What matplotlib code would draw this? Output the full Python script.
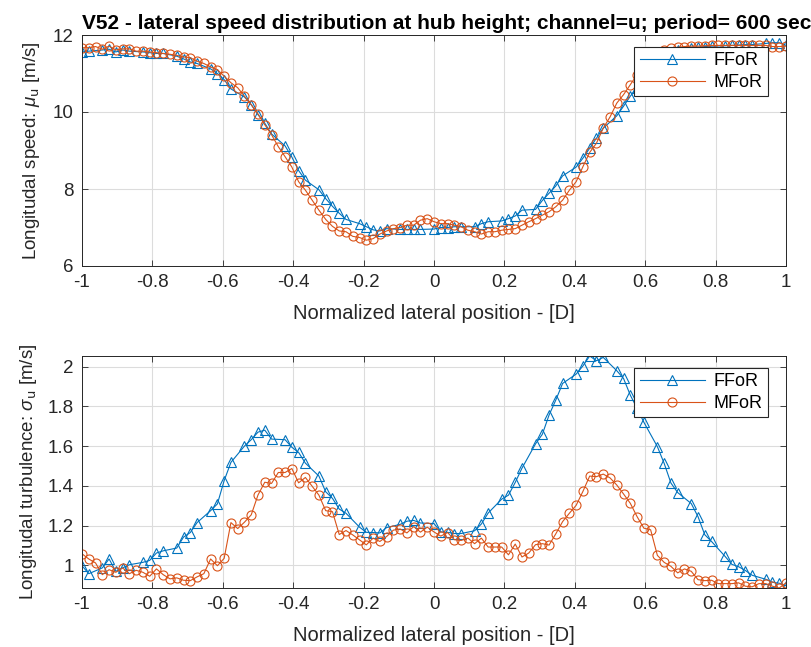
import numpy as np
import matplotlib
matplotlib.use("Agg")
import matplotlib.pyplot as plt

plt.rcParams['font.family'] = ['Liberation Sans', 'DejaVu Sans']
plt.rcParams['mathtext.fontset'] = 'custom'
plt.rcParams['mathtext.it'] = 'Liberation Sans:italic'

# lateral positions, normalized by rotor radius (105 stations)
pos = np.linspace(-1, 1, 105)

# mean longitudinal speed [m/s]
mu_ffor = [11.56, 11.58, None, 11.61, 11.63, 11.56, 11.61, 11.58, None, 11.56,
           11.54, 11.52, 11.52, None, 11.45, 11.38, 11.30, 11.26, None, 11.12,
           11.00, 10.84, 10.60, None, 10.39, 10.19, 9.93, 9.71, 9.43, None,
           9.12, 8.83, 8.48, 8.23, None, 7.98, 7.75, 7.55, 7.37, 7.21,
           None, 7.10, 7.02, 6.94, 6.91, 6.97, None, 6.95, 6.95, 6.95,
           6.95, None, 6.96, 7.00, 7.00, 7.02, 7.02, None, 7.02, 7.10,
           7.15, None, 7.17, 7.23, 7.30, 7.45, None, 7.47, 7.70, 7.89,
           8.08, 8.34, None, 8.57, 8.80, 9.06, 9.32, 9.58, None, 9.90,
           10.15, 10.41, 10.63, 10.85, None, 11.20, 11.40, 11.52, 11.60, None,
           11.66, 11.68, 11.70, 11.71, None, 11.72, 11.73, 11.74, 11.75, 11.75,
           None, 11.78, 11.80, 11.80, 11.73]
mu_mfor = [11.67, 11.67, 11.70, 11.63, 11.71, 11.61, 11.64, 11.64, 11.58, 11.58,
           11.56, 11.54, 11.52, 11.50, 11.47, 11.43, 11.41, 11.32, 11.26, 11.17,
           11.10, 10.93, 10.76, 10.63, 10.41, 10.19, 9.95, 9.67, 9.41, 9.10,
           8.84, 8.57, 8.19, 7.97, 7.71, 7.45, 7.21, 7.03, 6.91, 6.89,
           6.77, 6.74, 6.67, 6.71, 6.83, 6.91, 6.97, 7.00, 7.06, 7.06,
           7.19, 7.23, 7.15, 7.10, 7.10, 7.06, 7.02, 6.93, 6.89, 6.83,
           6.89, 6.89, 6.93, 6.95, 6.97, 7.06, 7.15, 7.23, 7.32, 7.41,
           7.54, 7.71, 7.97, 8.19, 8.58, 8.95, 9.19, 9.58, 9.87, 10.23,
           10.45, 10.71, 10.97, 11.20, 11.40, 11.52, 11.60, 11.65, 11.68, 11.70,
           11.71, 11.71, 11.72, 11.73, 11.73, 11.73, 11.73, 11.73, 11.73, 11.73,
           11.73, 11.73, 11.70, 11.70, 11.71]

# longitudinal turbulence (std) [m/s]
sig_ffor = [0.998, 0.958, None, 0.987, 1.032, 0.970, 0.987, 1.003, None, 1.015,
            1.025, 1.062, 1.073, None, 1.087, 1.142, 1.165, 1.215, None, 1.275,
            1.309, 1.426, 1.518, None, 1.600, 1.632, 1.670, 1.680, 1.635, None,
            1.632, 1.594, 1.568, 1.514, None, 1.449, 1.370, 1.337, 1.283, 1.262,
            None, 1.192, 1.166, 1.165, 1.163, 1.190, None, 1.206, 1.222, 1.226,
            1.213, None, 1.210, 1.168, 1.166, 1.160, 1.160, None, 1.174, 1.208,
            1.263, None, 1.333, 1.353, 1.417, 1.489, None, 1.611, 1.659, 1.756,
            1.832, 1.915, None, 1.962, 2.003, 2.053, 2.029, 2.046, None, 1.979,
            1.940, 1.856, 1.790, 1.720, None, 1.597, 1.513, 1.414, 1.366, None,
            1.311, 1.245, 1.154, 1.120, None, 1.045, 1.005, 0.993, 0.974, 0.950,
            None, 0.930, 0.915, 0.910, 0.897]
sig_mfor = [1.058, 1.032, 1.012, 0.953, 0.978, 0.965, 0.987, 0.958, 0.975, 0.965,
            0.945, 0.982, 0.953, 0.932, 0.937, 0.925, 0.923, 0.942, 0.958, 1.032,
            0.998, 1.035, 1.215, 1.185, 1.217, 1.254, 1.354, 1.418, 1.412, 1.467,
            1.467, 1.487, 1.415, 1.442, 1.398, 1.353, 1.275, 1.270, 1.155, 1.175,
            1.153, 1.128, 1.103, 1.137, 1.120, 1.145, 1.177, 1.183, 1.163, 1.195,
            1.167, 1.192, 1.168, 1.147, 1.165, 1.129, 1.125, 1.137, 1.109, 1.137,
            1.092, 1.092, 1.092, 1.053, 1.107, 1.042, 1.062, 1.104, 1.109, 1.102,
            1.159, 1.220, 1.262, 1.302, 1.372, 1.449, 1.446, 1.459, 1.440, 1.404,
            1.359, 1.312, 1.245, 1.187, 1.179, 1.050, 1.015, 0.995, 0.962, 0.982,
            0.970, 0.928, 0.923, 0.925, 0.908, 0.908, 0.908, 0.912, 0.895, 0.892,
            0.908, 0.908, 0.895, 0.886, 0.912]

xticks = [-1, -0.8, -0.6, -0.4, -0.2, 0, 0.2, 0.4, 0.6, 0.8, 1]
xticklabels = ['-1', '-0.8', '-0.6', '-0.4', '-0.2', '0', '0.2', '0.4', '0.6', '0.8', '1']

c_f = '#0072BD'
c_m = '#D95319'
txt = '#262626'


def series(vals):
    v = np.array([np.nan if a is None else a for a in vals], dtype=float)
    ok = np.isfinite(v)
    return pos[ok], v[ok]


def style(ax):
    ax.set_xlim(-1, 1)
    ax.set_xticks(xticks)
    ax.set_xticklabels(xticklabels)
    ax.grid(True, color='#dcdcdc', linewidth=0.8)
    ax.set_axisbelow(True)
    ax.tick_params(direction='in', top=True, right=True, length=4, pad=6,
                   width=0.6, color=txt, labelsize=13.5, labelcolor=txt)
    for s in ax.spines.values():
        s.set_color(txt)
        s.set_linewidth(0.7)
    ax.set_xlabel('Normalized lateral position - [D]', fontsize=14.5, color=txt, labelpad=9)


fig = plt.figure(figsize=(8.12, 6.47), dpi=100)
ax1 = fig.add_axes([82/812, 1-266/647, 704/812, 231/647])
ax2 = fig.add_axes([82/812, 1-588/647, 704/812, 232/647])

for ax, f, m in [(ax1, mu_ffor, mu_mfor), (ax2, sig_ffor, sig_mfor)]:
    xf, yf = series(f)
    xm, ym = series(m)
    ax.plot(xf, yf, '-^', color=c_f, lw=0.8, ms=6.5, mfc='none', mew=0.8, label='FFoR')
    ax.plot(xm, ym, '-o', color=c_m, lw=0.8, ms=6.5, mfc='none', mew=0.8, label='MFoR')
    style(ax)
    leg = ax.legend(loc='upper right', bbox_to_anchor=(1 - 18/704, 1 - 12/231),
                    fontsize=13, frameon=True, fancybox=False, borderaxespad=0,
                    handlelength=3.6, borderpad=0.3, labelspacing=0.25, handletextpad=0.5)
    leg.get_frame().set_edgecolor(txt)
    leg.get_frame().set_linewidth(0.8)
    leg.get_frame().set_alpha(1)

ax1.set_ylim(6, 12)
ax1.set_yticks([6, 8, 10, 12])
ax1.set_ylabel(r'Longitudal speed: $\mu_{\mathrm{u}}$ [m/s]', fontsize=13.5, color=txt, labelpad=8)

allv = [a for a in sig_ffor + sig_mfor if a is not None]
ax2.set_ylim(min(allv), max(allv))
ax2.set_yticks([1, 1.2, 1.4, 1.6, 1.8, 2])
ax2.set_yticklabels(['1', '1.2', '1.4', '1.6', '1.8', '2'])
ax2.set_ylabel(r'Longitudal turbulence: $\sigma_{\mathrm{u}}$ [m/s]', fontsize=13.5, color=txt, labelpad=6)

ax1.text(0.0, 1.01, 'V52 - lateral speed distribution at hub height; channel=u; period= 600 sec',
         transform=ax1.transAxes, ha='left', va='bottom', fontsize=15, fontweight='bold')

fig.savefig('out.png', dpi=100)
